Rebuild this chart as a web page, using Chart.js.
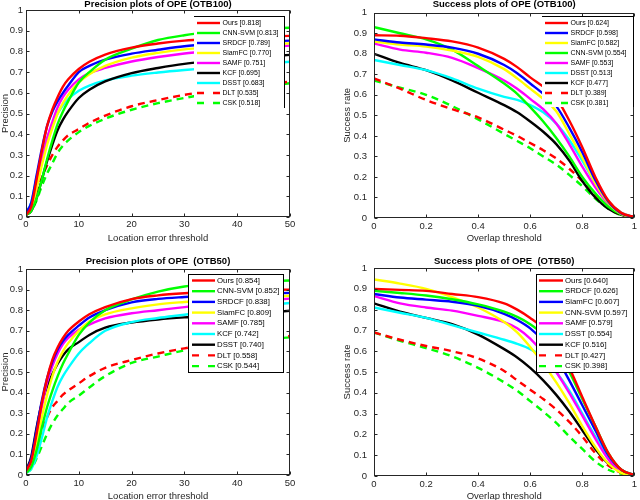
<!DOCTYPE html>
<html><head><meta charset="utf-8">
<script src="https://cdn.jsdelivr.net/npm/chart.js@4.4.0/dist/chart.umd.min.js"></script>
<style>
html,body{margin:0;padding:0;background:#fff;width:640px;height:500px;overflow:hidden;}
canvas{position:absolute;}
</style></head><body>
<canvas id="c1" width="320" height="250" style="left:0;top:0"></canvas>
<canvas id="c2" width="320" height="250" style="left:320px;top:0"></canvas>
<canvas id="c3" width="320" height="250" style="left:0;top:250px"></canvas>
<canvas id="c4" width="320" height="250" style="left:320px;top:250px"></canvas>
<script>
// ---------- thresholds ----------
const precThresholds = [0,1,2,3,4,5,6,7,8,10,12,15,20,25,30,35,40,45,50];
const overlapThresholds = [0,0.1,0.2,0.3,0.4,0.5,0.55,0.6,0.65,0.7,0.75,0.8,0.85,0.9,0.95,1];

// ---------- Precision plots of OPE (OTB100) ----------
const p100Names  = ['Ours','CNN-SVM','SRDCF','SiamFC','SAMF','KCF','DSST','DLT','CSK'];
const p100Scores = ['0.818','0.813','0.789','0.770','0.751','0.695','0.683','0.535','0.518'];
const p100_ours   = [0.01,0.05,0.18,0.32,0.44,0.52,0.58,0.63,0.665,0.715,0.75,0.785,0.818,0.838,0.852,0.86,0.866,0.871,0.875];
const p100_cnnsvm = [0.01,0.03,0.09,0.18,0.28,0.37,0.45,0.51,0.56,0.65,0.7,0.76,0.813,0.855,0.878,0.893,0.903,0.91,0.914];
const p100_srdcf  = [0.02,0.07,0.2,0.33,0.44,0.51,0.56,0.6,0.635,0.7,0.73,0.76,0.789,0.808,0.825,0.835,0.842,0.847,0.852];
const p100_siamfc = [0.01,0.04,0.14,0.25,0.35,0.43,0.5,0.55,0.59,0.65,0.69,0.73,0.77,0.793,0.81,0.82,0.828,0.834,0.839];
const p100_samf   = [0.01,0.04,0.14,0.27,0.38,0.46,0.53,0.58,0.615,0.665,0.695,0.72,0.751,0.773,0.79,0.802,0.812,0.82,0.828];
const p100_kcf    = [0.01,0.03,0.09,0.18,0.27,0.35,0.42,0.47,0.51,0.575,0.615,0.655,0.695,0.72,0.74,0.753,0.765,0.775,0.783];
const p100_dsst   = [0.02,0.07,0.19,0.3,0.38,0.45,0.5,0.54,0.57,0.61,0.635,0.66,0.683,0.698,0.71,0.72,0.73,0.74,0.75];
const p100_dlt    = [0.01,0.04,0.12,0.19,0.25,0.3,0.34,0.37,0.395,0.425,0.455,0.49,0.535,0.565,0.59,0.61,0.625,0.64,0.654];
const p100_csk    = [0.01,0.03,0.08,0.15,0.21,0.26,0.31,0.345,0.37,0.41,0.44,0.475,0.518,0.55,0.575,0.597,0.615,0.632,0.646];

// ---------- Success plots of OPE (OTB100) ----------
const s100Names  = ['Ours','SRDCF','SiamFC','CNN-SVM','SAMF','DSST','KCF','DLT','CSK'];
const s100Scores = ['0.624','0.598','0.582','0.554','0.553','0.513','0.477','0.389','0.381'];
const s100_ours   = [0.89,0.888,0.876,0.86,0.83,0.775,0.735,0.685,0.64,0.585,0.475,0.345,0.2,0.085,0.025,0.005];
const s100_srdcf  = [0.87,0.855,0.845,0.83,0.8,0.745,0.705,0.655,0.605,0.545,0.44,0.32,0.185,0.08,0.022,0.005];
const s100_siamfc = [0.86,0.845,0.835,0.815,0.785,0.725,0.68,0.63,0.58,0.52,0.41,0.295,0.17,0.075,0.02,0.005];
const s100_cnnsvm = [0.93,0.9,0.87,0.82,0.74,0.655,0.605,0.54,0.47,0.39,0.3,0.2,0.12,0.055,0.018,0.005];
const s100_samf   = [0.85,0.82,0.805,0.78,0.73,0.67,0.63,0.58,0.53,0.46,0.36,0.25,0.15,0.07,0.02,0.005];
const s100_dsst   = [0.77,0.745,0.72,0.68,0.63,0.59,0.575,0.55,0.515,0.46,0.38,0.28,0.17,0.08,0.025,0.005];
const s100_kcf    = [0.8,0.755,0.72,0.67,0.61,0.55,0.515,0.47,0.42,0.36,0.28,0.18,0.1,0.045,0.015,0.004];
const s100_dlt    = [0.68,0.63,0.575,0.53,0.49,0.43,0.4,0.365,0.33,0.29,0.24,0.18,0.11,0.05,0.015,0.003];
const s100_csk    = [0.67,0.635,0.6,0.545,0.48,0.41,0.375,0.34,0.3,0.26,0.21,0.155,0.095,0.045,0.013,0.003];

// ---------- Precision plots of OPE (OTB50) ----------
const p50Names  = ['Ours','CNN-SVM','SRDCF','SiamFC','SAMF','KCF','DSST','DLT','CSK'];
const p50Scores = ['0.854','0.852','0.838','0.809','0.785','0.742','0.740','0.558','0.544'];
const p50_ours   = [0.02,0.07,0.2,0.35,0.47,0.56,0.62,0.665,0.7,0.745,0.78,0.815,0.854,0.872,0.882,0.888,0.893,0.897,0.9];
const p50_cnnsvm = [0.01,0.04,0.12,0.23,0.33,0.41,0.48,0.54,0.59,0.68,0.74,0.8,0.852,0.89,0.915,0.928,0.935,0.94,0.944];
const p50_srdcf  = [0.02,0.08,0.22,0.36,0.47,0.55,0.61,0.65,0.68,0.725,0.765,0.8,0.838,0.855,0.864,0.871,0.876,0.88,0.884];
const p50_siamfc = [0.01,0.05,0.15,0.28,0.39,0.48,0.55,0.6,0.64,0.7,0.745,0.78,0.809,0.828,0.84,0.85,0.858,0.864,0.87];
const p50_samf   = [0.01,0.06,0.19,0.33,0.45,0.53,0.59,0.635,0.665,0.705,0.73,0.76,0.785,0.8,0.815,0.828,0.838,0.848,0.856];
const p50_kcf    = [0.01,0.03,0.09,0.18,0.28,0.36,0.43,0.48,0.52,0.59,0.64,0.7,0.742,0.762,0.778,0.795,0.81,0.823,0.835];
const p50_dsst   = [0.02,0.09,0.23,0.35,0.43,0.49,0.54,0.58,0.61,0.645,0.68,0.715,0.74,0.755,0.765,0.772,0.78,0.788,0.797];
const p50_dlt    = [0.01,0.05,0.14,0.22,0.28,0.33,0.36,0.39,0.41,0.445,0.48,0.52,0.558,0.59,0.615,0.635,0.65,0.663,0.674];
const p50_csk    = [0.01,0.03,0.08,0.14,0.2,0.25,0.29,0.32,0.35,0.385,0.425,0.48,0.544,0.575,0.605,0.628,0.645,0.658,0.668];

// ---------- Success plots of OPE (OTB50) ----------
const s50Names  = ['Ours','SRDCF','SiamFC','CNN-SVM','SAMF','DSST','KCF','DLT','CSK'];
const s50Scores = ['0.640','0.626','0.607','0.597','0.579','0.554','0.516','0.427','0.398'];
const s50_ours   = [0.9,0.895,0.89,0.875,0.86,0.83,0.8,0.76,0.71,0.63,0.52,0.38,0.24,0.11,0.03,0.005];
const s50_srdcf  = [0.89,0.88,0.868,0.85,0.825,0.79,0.765,0.73,0.68,0.6,0.5,0.37,0.24,0.11,0.03,0.005];
const s50_siamfc = [0.875,0.858,0.848,0.838,0.818,0.78,0.75,0.71,0.65,0.57,0.46,0.34,0.22,0.1,0.03,0.005];
const s50_cnnsvm = [0.945,0.925,0.9,0.86,0.81,0.74,0.69,0.62,0.54,0.45,0.35,0.24,0.14,0.06,0.015,0.003];
const s50_samf   = [0.865,0.83,0.81,0.795,0.77,0.74,0.71,0.66,0.59,0.5,0.4,0.29,0.18,0.08,0.02,0.004];
const s50_dsst   = [0.81,0.785,0.76,0.725,0.69,0.655,0.635,0.61,0.57,0.5,0.41,0.3,0.19,0.09,0.025,0.005];
const s50_kcf    = [0.83,0.79,0.76,0.73,0.68,0.61,0.57,0.52,0.46,0.39,0.31,0.22,0.13,0.06,0.02,0.004];
const s50_dlt    = [0.69,0.655,0.625,0.6,0.565,0.505,0.46,0.415,0.37,0.32,0.26,0.19,0.11,0.05,0.015,0.003];
const s50_csk    = [0.69,0.65,0.615,0.575,0.52,0.45,0.41,0.36,0.31,0.255,0.19,0.13,0.07,0.03,0.01,0.002];

// ---------- styles ----------
const RED='#ff0000', GRN='#00ff00', BLU='#0000ff', YEL='#ffff00', MAG='#ff00ff', BLK='#000000', CYN='#00ffff';
const FONT = '"Liberation Sans", Arial, Helvetica, sans-serif';
const AXC = '#262626';
const LW = 2.4;

const matlabPlugin = {
  id: 'matlab',
  afterDatasetsDraw(chart, args, o) {
    const ctx = chart.ctx, a = chart.chartArea;
    const xs = chart.scales.x, ys = chart.scales.y;
    const L0 = Math.round(a.left)+0.5, R0 = Math.round(a.right)-0.5, T0 = Math.round(a.top)+0.5, B0 = Math.round(a.bottom)-0.5;
    const seg = (x1,y1,x2,y2)=>{ctx.beginPath();ctx.moveTo(x1,y1);ctx.lineTo(x2,y2);ctx.stroke();};
    ctx.save();
    // axes box
    ctx.strokeStyle = AXC; ctx.lineWidth = 1;
    ctx.strokeRect(L0, T0, R0-L0, B0-T0);
    // inward tick marks
    ys.ticks.forEach(t=>{ const y = Math.round(ys.getPixelForValue(t.value))+0.5; seg(L0,y,L0+3,y); seg(R0,y,R0-3,y); });
    xs.ticks.forEach(t=>{ const x = Math.round(xs.getPixelForValue(t.value))+0.5; seg(x,B0,x,B0-3); seg(x,T0,x,T0+3); });
    // legend
    const lg = o.legend;
    ctx.fillStyle = '#fff';
    ctx.fillRect(lg.left, lg.top, lg.right-lg.left, lg.bottom-lg.top);
    ctx.strokeStyle = '#000'; ctx.lineWidth = 1;
    if (lg.full) ctx.strokeRect(lg.left+0.5, lg.top+0.5, lg.right-lg.left, lg.bottom-lg.top);
    else { seg(lg.left, lg.top+0.5, lg.right+0.5, lg.top+0.5); seg(lg.right+0.5, lg.top, lg.right+0.5, lg.bottom); }
    ctx.font = lg.font; ctx.textBaseline = 'middle'; ctx.textAlign = 'left';
    chart.data.datasets.forEach((ds,i)=>{
      const y = lg.row0 + i*lg.dy;
      ctx.strokeStyle = ds.borderColor; ctx.lineWidth = LW;
      ctx.setLineDash(ds.borderDash && ds.borderDash.length ? [7,9] : []);
      seg(lg.x0, y, lg.x1, y);
      ctx.setLineDash([]);
      ctx.fillStyle = '#000';
      ctx.fillText(ds.label, lg.tx, y);
    });
    // plot title
    ctx.font = 'bold 9.5px ' + FONT; ctx.fillStyle = '#000'; ctx.textAlign = 'center';
    ctx.fillText(o.title, (a.left+a.right)/2, o.titleY);
    ctx.restore();
  }
};

const fmtTick = v => String(Math.round(v*10)/10);

function makeChart(id, c) {
  const datasets = c.series.map((arr,i)=>({
    label: c.names[i] + ' [' + c.scores[i] + ']',
    data: c.xs.map((x,j)=>({x:x, y:arr[j]})),
    borderColor: c.colors[i],
    borderWidth: LW,
    borderDash: i >= 7 ? [7,5] : [],
    pointRadius: 0,
    fill: false,
    cubicInterpolationMode: 'monotone'
  }));
  const tickFont = {family: FONT, size: 9.5};
  return new Chart(document.getElementById(id), {
    type: 'line',
    data: { datasets },
    plugins: [matlabPlugin],
    options: {
      responsive: false, animation: false, events: [],
      layout: { padding: { left: 0, right: c.padR, top: c.padT, bottom: 0 } },
      plugins: {
        legend: { display: false }, tooltip: { enabled: false },
        matlab: { title: c.title, titleY: c.titleY, legend: c.legend }
      },
      scales: {
        x: {
          type: 'linear', min: 0, max: c.xMax,
          ticks: { stepSize: c.xStep, font: tickFont, color: AXC, padding: c.xTickPad, maxRotation: 0, autoSkip: false, callback: fmtTick },
          grid: { display: false, drawTicks: false }, border: { display: false },
          title: { display: true, text: c.xTitle, color: AXC, font: {family: FONT, size: 9.5}, padding: {top: 0, bottom: c.xTitlePadB} },
          afterFit(s) { s.height = c.xH; }
        },
        y: {
          type: 'linear', min: 0, max: 1,
          ticks: { stepSize: 0.1, font: tickFont, color: AXC, padding: c.yTickPad, autoSkip: false, callback: fmtTick },
          grid: { display: false, drawTicks: false }, border: { display: false },
          title: { display: true, text: c.yTitle, color: AXC, font: {family: FONT, size: 9.5}, padding: {top: c.yTitlePadT, bottom: 0} },
          afterFit(s) { s.width = c.yW; }
        }
      }
    }
  });
}

const legendFontTop = '7px ' + FONT, legendFontBot = '7.8px ' + FONT;

makeChart('c1', {
  xs: precThresholds, xMax: 50, xStep: 10,
  series: [p100_ours,p100_cnnsvm,p100_srdcf,p100_siamfc,p100_samf,p100_kcf,p100_dsst,p100_dlt,p100_csk],
  names: p100Names, scores: p100Scores,
  colors: [RED,GRN,BLU,YEL,MAG,BLK,CYN,RED,GRN],
  title: 'Precision plots of OPE (OTB100)', titleY: 4,
  xTitle: 'Location error threshold', yTitle: 'Precision',
  padR: 30, padT: 10, xH: 33, yW: 26, xTickPad: 2, yTickPad: 3, xTitlePadB: 5.5, yTitlePadT: -0.5,
  legend: {left:194, right:284, top:16, bottom:108, full:false, x0:197, x1:220, tx:222.5, row0:23, dy:10, font: legendFontTop}
});

makeChart('c2', {
  xs: overlapThresholds, xMax: 1, xStep: 0.2,
  series: [s100_ours,s100_srdcf,s100_siamfc,s100_cnnsvm,s100_samf,s100_dsst,s100_kcf,s100_dlt,s100_csk],
  names: s100Names, scores: s100Scores,
  colors: [RED,BLU,YEL,GRN,MAG,CYN,BLK,RED,GRN],
  title: 'Success plots of OPE (OTB100)', titleY: 4,
  xTitle: 'Overlap threshold', yTitle: 'Success rate',
  padR: 3, padT: 10, xH: 32, yW: 54, xTickPad: 3, yTickPad: 7, xTitlePadB: 5.5, yTitlePadT: 21.5,
  legend: {left:222, right:313, top:16, bottom:107, full:false, x0:225, x1:248, tx:250.5, row0:23, dy:10, font: legendFontTop}
});

makeChart('c3', {
  xs: precThresholds, xMax: 50, xStep: 10,
  series: [p50_ours,p50_cnnsvm,p50_srdcf,p50_siamfc,p50_samf,p50_kcf,p50_dsst,p50_dlt,p50_csk],
  names: p50Names, scores: p50Scores,
  colors: [RED,GRN,BLU,YEL,MAG,CYN,BLK,RED,GRN],
  title: 'Precision plots of OPE  (OTB50)', titleY: 11,
  xTitle: 'Location error threshold', yTitle: 'Precision',
  padR: 30, padT: 19, xH: 25, yW: 26, xTickPad: 3, yTickPad: 3, xTitlePadB: -2.5, yTitlePadT: -0.5,
  legend: {left:188, right:283, top:24, bottom:122, full:true, x0:192, x1:215, tx:217, row0:30.5, dy:10.7, font: legendFontBot}
});

makeChart('c4', {
  xs: overlapThresholds, xMax: 1, xStep: 0.2,
  series: [s50_ours,s50_srdcf,s50_siamfc,s50_cnnsvm,s50_samf,s50_dsst,s50_kcf,s50_dlt,s50_csk],
  names: s50Names, scores: s50Scores,
  colors: [RED,GRN,BLU,YEL,MAG,CYN,BLK,RED,GRN],
  title: 'Success plots of OPE  (OTB50)', titleY: 11,
  xTitle: 'Overlap threshold', yTitle: 'Success rate',
  padR: 3, padT: 18, xH: 24, yW: 54, xTickPad: 3, yTickPad: 7, xTitlePadB: -2.5, yTitlePadT: 21.5,
  legend: {left:216, right:313, top:24, bottom:122, full:true, x0:219, x1:243, tx:245, row0:30.5, dy:10.7, font: legendFontBot}
});
</script>
</body></html>
